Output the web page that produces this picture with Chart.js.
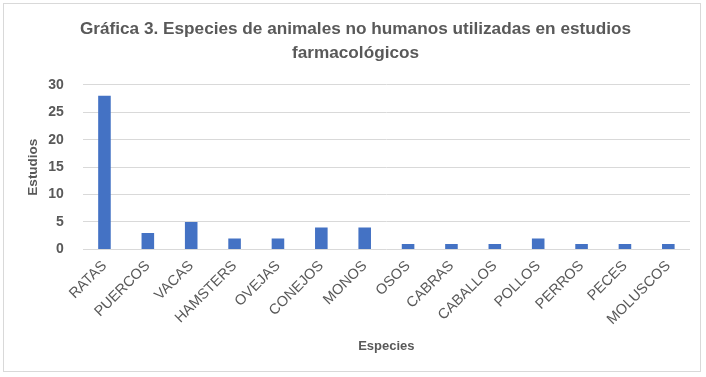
<!DOCTYPE html>
<html>
<head>
<meta charset="utf-8">
<script src="https://cdn.jsdelivr.net/npm/chart.js@4"></script>
<style>
  html, body { margin: 0; padding: 0; background: #fff; }
  .frame {
    position: absolute; left: 3px; top: 3px;
    width: 698px; height: 369px;
    border: 1px solid #d9d9d9; box-sizing: border-box;
  }
  #chart { position: absolute; left: 0; top: 0; }
</style>
</head>
<body>
<div class="frame"></div>
<canvas id="chart" width="706" height="377"></canvas>
<script>
// data
const especies = ["RATAS", "PUERCOS", "VACAS", "HAMSTERS", "OVEJAS", "CONEJOS", "MONOS",
  "OSOS", "CABRAS", "CABALLOS", "POLLOS", "PERROS", "PECES", "MOLUSCOS"];
const estudios = [28, 3, 5, 2, 2, 4, 4, 1, 1, 1, 2, 1, 1, 1];
const titulo = ["Gráfica 3. Especies de animales no humanos utilizadas en estudios", "farmacológicos"];

const gray = "#595959";
const font = "'Liberation Sans', Arial, sans-serif";

new Chart(document.getElementById("chart"), {
  type: "bar",
  data: {
    labels: especies,
    datasets: [{
      label: "Estudios",
      data: estudios,
      backgroundColor: "#4472C4",
      categoryPercentage: 1,
      barPercentage: 0.29,
    }],
  },
  options: {
    responsive: false,
    animation: false,
    layout: { padding: { left: 21, right: 16, top: 10, bottom: 19 } },
    plugins: {
      legend: { display: false },
      tooltip: { enabled: false },
      title: {
        display: true,
        text: titulo,
        color: gray,
        font: { family: font, size: 17.2, weight: "bold", lineHeight: 1.42 },
        padding: { top: 7, bottom: 19 },
      },
    },
    scales: {
      x: {
        grid: { display: false, drawTicks: false },
        border: { display: false },
        ticks: {
          color: gray,
          font: { family: font, size: 14.5 },
          minRotation: 45,
          maxRotation: 45,
          autoSkip: false,
          padding: 8,
        },
        title: {
          display: true,
          text: "Especies",
          color: gray,
          font: { family: font, size: 13, weight: "bold" },
          padding: { top: 2 },
        },
      },
      y: {
        min: 0,
        max: 30,
        grid: { color: "#d9d9d9", drawTicks: false },
        border: { display: false },
        ticks: {
          stepSize: 5,
          color: gray,
          font: { family: font, size: 14, weight: "bold" },
          padding: 19,
        },
        title: {
          display: true,
          text: "Estudios",
          color: gray,
          font: { family: font, size: 13.5, weight: "bold" },
          padding: { top: 4, bottom: -12 },
        },
      },
    },
  },
});
</script>
</body>
</html>
